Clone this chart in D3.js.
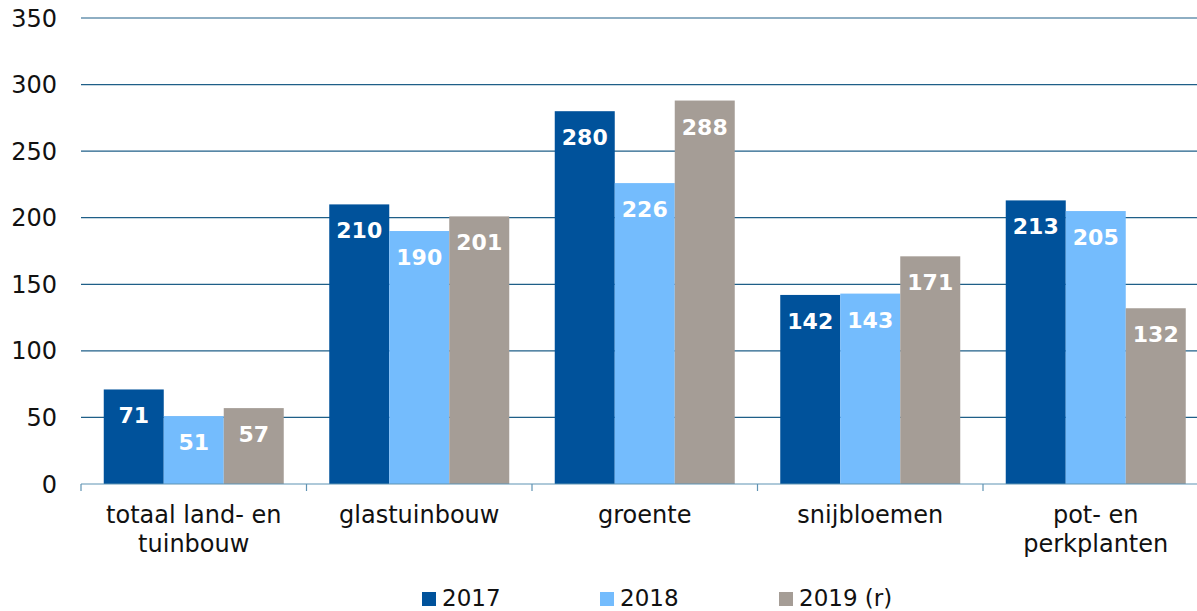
<!DOCTYPE html>
<html>
<head>
<meta charset="utf-8">
<script src="https://cdn.jsdelivr.net/npm/d3@7"></script>
<style>
  body { margin: 0; background: #fff; }
  svg { display: block; font-family: "DejaVu Sans", Verdana, sans-serif; }
</style>
</head>
<body>
<svg id="chart" width="1197" height="611"></svg>
<script>
const categories = [['totaal land- en', 'tuinbouw'], ['glastuinbouw'], ['groente'], ['snijbloemen'], ['pot- en', 'perkplanten']];
const seriesNames = ['2017', '2018', '2019 (r)'];
const values2017 = [71, 210, 280, 142, 213];
const values2018 = [51, 190, 226, 143, 205];
const values2019 = [57, 201, 288, 171, 132];
const yTicks = [0, 50, 100, 150, 200, 250, 300, 350];
const colors = ['#00529b', '#74bcfd', '#a59d96'];

const series = [values2017, values2018, values2019];
const svg = d3.select('#chart');

const plotLeft = 81, plotRight = 1208.5, plotTop = 18, plotBottom = 484;

const x0 = d3.scaleBand()
    .domain(d3.range(categories.length))
    .range([plotLeft, plotRight]);
const x1 = d3.scaleBand()
    .domain(d3.range(seriesNames.length))
    .range([22.75, x0.bandwidth() - 22.75]);
const y = d3.scaleLinear().domain([0, 350]).range([plotBottom, plotTop]);

// gridlines
svg.append('g')
    .selectAll('line')
    .data(yTicks.filter(d => d > 0))
    .join('line')
    .attr('x1', plotLeft).attr('x2', plotRight)
    .attr('y1', d => y(d)).attr('y2', d => y(d))
    .attr('stroke', '#1f5f88').attr('stroke-width', 1.2);

// y tick labels
svg.append('g')
    .selectAll('text')
    .data(yTicks)
    .join('text')
    .attr('x', 57).attr('y', d => y(d))
    .attr('dy', '0.36em')
    .attr('text-anchor', 'end')
    .attr('font-size', 24)
    .attr('fill', '#111')
    .text(d => d);

// bars
const groups = svg.append('g')
    .selectAll('g')
    .data(categories.map((c, i) => i))
    .join('g')
    .attr('transform', i => `translate(${x0(i)},0)`);

groups.selectAll('rect')
    .data(i => series.map((s, j) => ({ j, v: s[i] })))
    .join('rect')
    .attr('x', d => x1(d.j))
    .attr('y', d => y(d.v))
    .attr('width', x1.bandwidth())
    .attr('height', d => y(0) - y(d.v))
    .attr('fill', d => colors[d.j]);

groups.selectAll('text')
    .data(i => series.map((s, j) => ({ j, v: s[i] })))
    .join('text')
    .attr('x', d => x1(d.j) + x1.bandwidth() / 2)
    .attr('y', d => y(d.v) + 34)
    .attr('text-anchor', 'middle')
    .attr('font-size', 22)
    .attr('font-weight', 'bold')
    .attr('fill', '#fff')
    .text(d => d.v);

// x axis
const axis = svg.append('g');
axis.append('line')
    .attr('x1', plotLeft).attr('x2', plotRight)
    .attr('y1', plotBottom).attr('y2', plotBottom)
    .attr('stroke', '#5f93b3').attr('stroke-width', 1.2);
axis.selectAll('.tick')
    .data(d3.range(categories.length + 1))
    .join('line')
    .attr('class', 'tick')
    .attr('x1', i => plotLeft + i * x0.step()).attr('x2', i => plotLeft + i * x0.step())
    .attr('y1', plotBottom).attr('y2', plotBottom + 7)
    .attr('stroke', '#5f93b3').attr('stroke-width', 1.2);

axis.selectAll('text.cat')
    .data(categories)
    .join('text')
    .attr('class', 'cat')
    .attr('x', (d, i) => x0(i) + x0.bandwidth() / 2)
    .attr('y', 523)
    .attr('text-anchor', 'middle')
    .attr('font-size', 24)
    .attr('fill', '#111')
    .selectAll('tspan')
    .data(d => d)
    .join('tspan')
    .attr('x', function() { return this.parentNode.getAttribute('x'); })
    .attr('dy', (d, k) => k === 0 ? 0 : 29)
    .text(d => d);

// legend
const legendX = [422, 600, 779];
const legend = svg.append('g')
    .selectAll('g')
    .data(seriesNames)
    .join('g')
    .attr('transform', (d, i) => `translate(${legendX[i]},592)`);
legend.append('rect')
    .attr('width', 14).attr('height', 14)
    .attr('fill', (d, i) => colors[i]);
legend.append('text')
    .attr('x', 20).attr('y', 14)
    .attr('font-size', 23)
    .attr('fill', '#111')
    .text(d => d);
</script>
</body>
</html>
